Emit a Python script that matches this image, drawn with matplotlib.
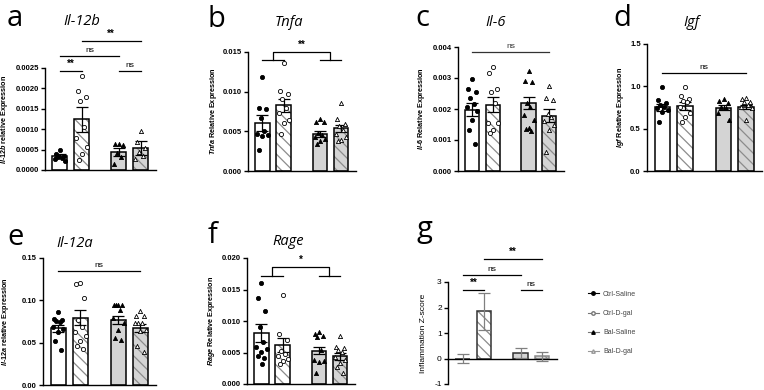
import numpy as np
import matplotlib
matplotlib.use("Agg")
import matplotlib.pyplot as plt
from matplotlib.lines import Line2D

plt.rcParams['font.family'] = ['Liberation Sans', 'DejaVu Sans']
plt.rcParams['mathtext.fontset'] = 'custom'
plt.rcParams['mathtext.it'] = 'Liberation Sans:italic:bold'
plt.rcParams['mathtext.rm'] = 'Liberation Sans:bold'
plt.rcParams['hatch.linewidth'] = 0.9

W, H = 764, 390

groups = ["Ctrl-Saline", "Ctrl-D-gal", "Bal-Saline", "Bal-D-gal"]

# a - Il-12b
il12b_mean = [0.00035, 0.00124, 0.00045, 0.00053]
il12b_sem = [0.00004, 0.00030, 0.00010, 0.00017]
il12b_pts = [[0.00050, 0.00038, 0.00034, 0.00032, 0.00029, 0.00026, 0.00021],
             [0.00231, 0.00194, 0.00178, 0.00170, 0.00106, 0.00078, 0.00056, 0.00038, 0.00025],
             [0.00063, 0.00063, 0.00062, 0.00042, 0.00032, 0.00015],
             [0.00096, 0.00069, 0.00053, 0.00045, 0.00034, 0.00026]]
il12b_ticks = [0.0, 0.0005, 0.0010, 0.0015, 0.0020, 0.0025]

# b - Tnfa
tnfa_mean = [0.0061, 0.0083, 0.0047, 0.0054]
tnfa_sem = [0.0010, 0.0008, 0.0004, 0.00045]
tnfa_pts = [[0.0119, 0.0080, 0.0078, 0.0067, 0.0050, 0.0047, 0.0046, 0.0044, 0.0027],
            [0.0136, 0.0101, 0.0097, 0.0091, 0.0080, 0.0073, 0.0064, 0.0060, 0.0047],
            [0.0065, 0.0062, 0.0062, 0.0048, 0.0045, 0.0043, 0.0040, 0.0038, 0.0034],
            [0.0086, 0.0065, 0.0059, 0.0057, 0.0052, 0.0047, 0.0043, 0.0039, 0.0038]]
tnfa_ticks = [0.000, 0.005, 0.010, 0.015]

# c - Il-6
il6_mean = [0.00198, 0.00214, 0.00219, 0.00179]
il6_sem = [0.00020, 0.00025, 0.00020, 0.00020]
il6_pts = [[0.00296, 0.00263, 0.00255, 0.00237, 0.00216, 0.00207, 0.00194, 0.00166, 0.00132, 0.00086],
           [0.00336, 0.00316, 0.00266, 0.00255, 0.00220, 0.00155, 0.00155, 0.00132, 0.00121],
           [0.00323, 0.00290, 0.00287, 0.00218, 0.00207, 0.00180, 0.00164, 0.00140, 0.00134, 0.00129],
           [0.00273, 0.00236, 0.00230, 0.00185, 0.00175, 0.00160, 0.00148, 0.00132, 0.00062]]
il6_ticks = [0.000, 0.001, 0.002, 0.003, 0.004]

# d - Igf
igf_mean = [0.754, 0.765, 0.750, 0.760]
igf_sem = [0.040, 0.045, 0.030, 0.025]
igf_pts = [[0.99, 0.84, 0.80, 0.78, 0.76, 0.74, 0.72, 0.70, 0.58],
           [0.99, 0.88, 0.85, 0.83, 0.82, 0.76, 0.68, 0.64, 0.58],
           [0.85, 0.83, 0.80, 0.76, 0.74, 0.68, 0.60],
           [0.86, 0.85, 0.82, 0.81, 0.78, 0.76, 0.74, 0.60]]
igf_ticks = [0.0, 0.5, 1.0, 1.5]

# e - Il-12a
il12a_mean = [0.067, 0.0795, 0.077, 0.067]
il12a_sem = [0.004, 0.009, 0.005, 0.0045]
il12a_pts = [[0.0868, 0.078, 0.077, 0.076, 0.074, 0.068, 0.066, 0.063, 0.0525, 0.041],
             [0.121, 0.119, 0.103, 0.077, 0.068, 0.063, 0.058, 0.052, 0.046, 0.043],
             [0.0947, 0.0947, 0.0947, 0.0947, 0.089, 0.079, 0.073, 0.065, 0.055, 0.053],
             [0.0876, 0.082, 0.081, 0.073, 0.073, 0.073, 0.065, 0.064, 0.0466, 0.039]]
il12a_ticks = [0.00, 0.05, 0.10, 0.15]

# f - Rage
rage_mean = [0.0081, 0.0062, 0.0053, 0.0044]
rage_sem = [0.0014, 0.0011, 0.0006, 0.0006]
rage_pts = [[0.0161, 0.0136, 0.0116, 0.0090, 0.0067, 0.0058, 0.0055, 0.0051, 0.0044, 0.0042, 0.0031],
            [0.0141, 0.0080, 0.0070, 0.0052, 0.0048, 0.0044, 0.0039, 0.0037, 0.0032],
            [0.0083, 0.0080, 0.0076, 0.0075, 0.0054, 0.0038, 0.0037, 0.0035, 0.0018],
            [0.0076, 0.0059, 0.0057, 0.0054, 0.0051, 0.0043, 0.0038, 0.0034, 0.0027, 0.0018]]
rage_ticks = [0.000, 0.005, 0.010, 0.015, 0.020]

# g - inflammation z-score
z_mean = [0.0, 1.85, 0.21, 0.08]
z_sem = [0.19, 0.72, 0.20, 0.18]
z_ticks = [-1, 0, 1, 2, 3]

pos = np.array([0, 1, 2.7, 3.7])
width = 0.68
fills = ['white', 'white', '#d4d4d4', '#d4d4d4']
hatches = [None, '\\\\\\', None, '\\\\\\']
markers = ['o', 'o', '^', '^']
mfaces = ['black', 'white', 'black', 'white']
jitter = [0, -0.18, 0.18, -0.09, 0.09, -0.24, 0.24, 0.0, -0.14, 0.14, 0.04]

fig = plt.figure(figsize=(W / 100, H / 100), dpi=100)


def make_axes(l, r, t, b):
    return fig.add_axes([l / W, 1 - b / H, (r - l) / W, (b - t) / H])


def style(ax, ylim, ticks, fmt, ylabel, label_x_px, bold=True, fs=5.5):
    ax.set_ylim(*ylim)
    ax.set_xlim(-0.68, 4.4)
    ax.set_xticks([])
    ax.set_yticks(ticks)
    ax.set_yticklabels([fmt.format(t) for t in ticks], fontsize=fs,
                       fontweight='bold' if bold else 'normal')
    for s in ['top', 'right']:
        ax.spines[s].set_visible(False)
    for s in ['left', 'bottom']:
        ax.spines[s].set_linewidth(1.0)
    ax.tick_params(axis='y', width=1.0, length=3, pad=1.5)
    bb = ax.get_position()
    ax.set_ylabel(ylabel, fontsize=fs - 0.3 if bold else 6,
                  fontweight='bold' if bold else 'normal')
    # label anchor is the right edge of the rotated text
    ax.yaxis.set_label_coords(((label_x_px + 4) / W - bb.x0) / bb.width, 0.5)


def bars(ax, means, sems, pts=None, ecol='black', edges=None):
    if edges is None:
        edges = ['black'] * 4
    for i in range(4):
        if hatches[i]:
            ax.bar(pos[i], means[i], width, color=fills[i], edgecolor='#8c8c8c',
                   linewidth=0, hatch=hatches[i], zorder=1)
        else:
            ax.bar(pos[i], means[i], width, color=fills[i], linewidth=0, zorder=1)
        ax.bar(pos[i], means[i], width, fill=False, edgecolor=edges[i],
               linewidth=1.1, zorder=2)
    ax.errorbar(pos, means, yerr=sems, fmt='none', ecolor=ecol, elinewidth=0.9,
                capsize=4.5, capthick=0.9, zorder=3)
    if pts is not None:
        for i in range(4):
            vals = pts[i]
            xs = [pos[i] + jitter[k % len(jitter)] for k in range(len(vals))]
            ax.scatter(xs, vals, s=9, marker=markers[i], facecolor=mfaces[i],
                       edgecolor='black', linewidths=0.6, zorder=4, clip_on=False)


def sig_line(ax, i, j, y, text, col='black'):
    ax.plot([pos[i], pos[j]], [y, y], color=col, lw=0.9, clip_on=False)
    bold = text != 'ns'
    ax.annotate(text, ((pos[i] + pos[j]) / 2, y), xytext=(0, 1.5),
                textcoords='offset points', ha='center', va='bottom',
                fontsize=7 if bold else 6, fontweight='bold' if bold else 'normal',
                color=col, annotation_clip=False)


def bracket(ax, y_top, y_low, text):
    m1 = (pos[0] + pos[1]) / 2
    m2 = (pos[2] + pos[3]) / 2
    kw = dict(color='black', lw=0.9, clip_on=False)
    ax.plot([pos[0], pos[1]], [y_low, y_low], **kw)
    ax.plot([pos[2], pos[3]], [y_low, y_low], **kw)
    ax.plot([m1, m1, m2, m2], [y_low, y_top, y_top, y_low], **kw)
    ax.annotate(text, ((m1 + m2) / 2, y_top), xytext=(0, 1.5),
                textcoords='offset points', ha='center', va='bottom',
                fontsize=7, fontweight='bold', annotation_clip=False)


def gene_label(g, rest):
    return '$\\mathit{' + g.replace('-', '}$-$\\mathit{') + '}$ ' + rest


# panel a
ax = make_axes(45, 156, 68, 170)
bars(ax, il12b_mean, il12b_sem, il12b_pts)
style(ax, (0, 0.0025), il12b_ticks, '{:.4f}', gene_label('Il-12b', 'relative Expression'), 6)
sig_line(ax, 0, 1, 0.00243, '**')
sig_line(ax, 2, 3, 0.00243, 'ns')
sig_line(ax, 0, 2, 0.00279, 'ns')
sig_line(ax, 1, 3, 0.00316, '**')

# panel b
ax = make_axes(248, 356, 52, 171)
bars(ax, tnfa_mean, tnfa_sem, tnfa_pts)
style(ax, (0, 0.015), tnfa_ticks, '{:.3f}', gene_label('Tnfa', 'Relative Expression'), 215)
bracket(ax, 0.015, 0.014, '**')

# panel c
ax = make_axes(458, 564, 47, 171)
bars(ax, il6_mean, il6_sem, il6_pts)
style(ax, (0, 0.004), il6_ticks, '{:.3f}', gene_label('Il-6', 'Relative Expression'), 423)
sig_line(ax, 0, 3, 0.00384, 'ns', col='#333333')

# panel d
ax = make_axes(647, 762, 44, 171)
bars(ax, igf_mean, igf_sem, igf_pts)
style(ax, (0, 1.5), igf_ticks, '{:.1f}', gene_label('Igf', 'Relative Expression'), 622)
sig_line(ax, 0, 3, 1.157, 'ns')

# panel e
ax = make_axes(43, 156, 258, 385)
bars(ax, il12a_mean, il12a_sem, il12a_pts)
style(ax, (0, 0.15), il12a_ticks, '{:.2f}', gene_label('Il-12a', 'relative Expression'), 7)
sig_line(ax, 0, 3, 0.1346, 'ns')

# panel f
ax = make_axes(247, 355, 258, 384)
bars(ax, rage_mean, rage_sem, rage_pts)
style(ax, (0, 0.02), rage_ticks, '{:.3f}', gene_label('Rage', 'Relative Expression'), 213)
bracket(ax, 0.0186, 0.0171, '*')

# panel g
ax = make_axes(448, 557, 282, 384)
bars(ax, z_mean, z_sem, None, ecol='#808080', edges=['#333333', '#333333', '#333333', '#8c8c8c'])
style(ax, (-1, 3), z_ticks, '{:d}', 'Inflammation Z-score', 423, bold=False, fs=6)
ax.spines['bottom'].set_position(('data', 0))
sig_line(ax, 0, 1, 2.68, '**')
sig_line(ax, 2, 3, 2.68, 'ns')
sig_line(ax, 0, 2, 3.27, 'ns')
sig_line(ax, 1, 3, 3.89, '**')

# panel letters and titles
letters = [('a', 7, 26), ('b', 207, 27), ('c', 415, 26), ('d', 613, 26),
           ('e', 7, 245), ('f', 208, 243), ('g', 417, 237)]
for t, x, y in letters:
    fig.text(x / W, 1 - y / H, t, fontsize=21, family='Open Sans', va='baseline')

titles = [('Il-12b', 82, 25), ('Tnfa', 289, 26), ('Il-6', 496, 26), ('Igf', 692, 26),
          ('Il-12a', 75, 247), ('Rage', 288, 245)]
for t, x, y in titles:
    fig.text(x / W, 1 - y / H, t, fontsize=10.5, family='Open Sans', style='italic',
             ha='center', va='baseline')

# legend
handles = [Line2D([], [], color='black', marker='o', ms=2.5, mfc='black', lw=0.8),
           Line2D([], [], color='#777777', marker='o', ms=2.5, mfc='white', lw=0.8),
           Line2D([], [], color='#777777', marker='^', ms=2.5, mfc='black', mec='black', lw=0.8),
           Line2D([], [], color='#999999', marker='^', ms=2.5, mfc='white', lw=0.8)]
leg = fig.legend(handles, groups, loc='upper left', bbox_to_anchor=(585 / W, 1 - 288 / H),
                 frameon=False, fontsize=5, labelspacing=1.75, handlelength=1.6,
                 handletextpad=0.6, borderaxespad=0)
for txt in leg.get_texts():
    txt.set_color('#444444')

fig.savefig('out.png', dpi=100)
